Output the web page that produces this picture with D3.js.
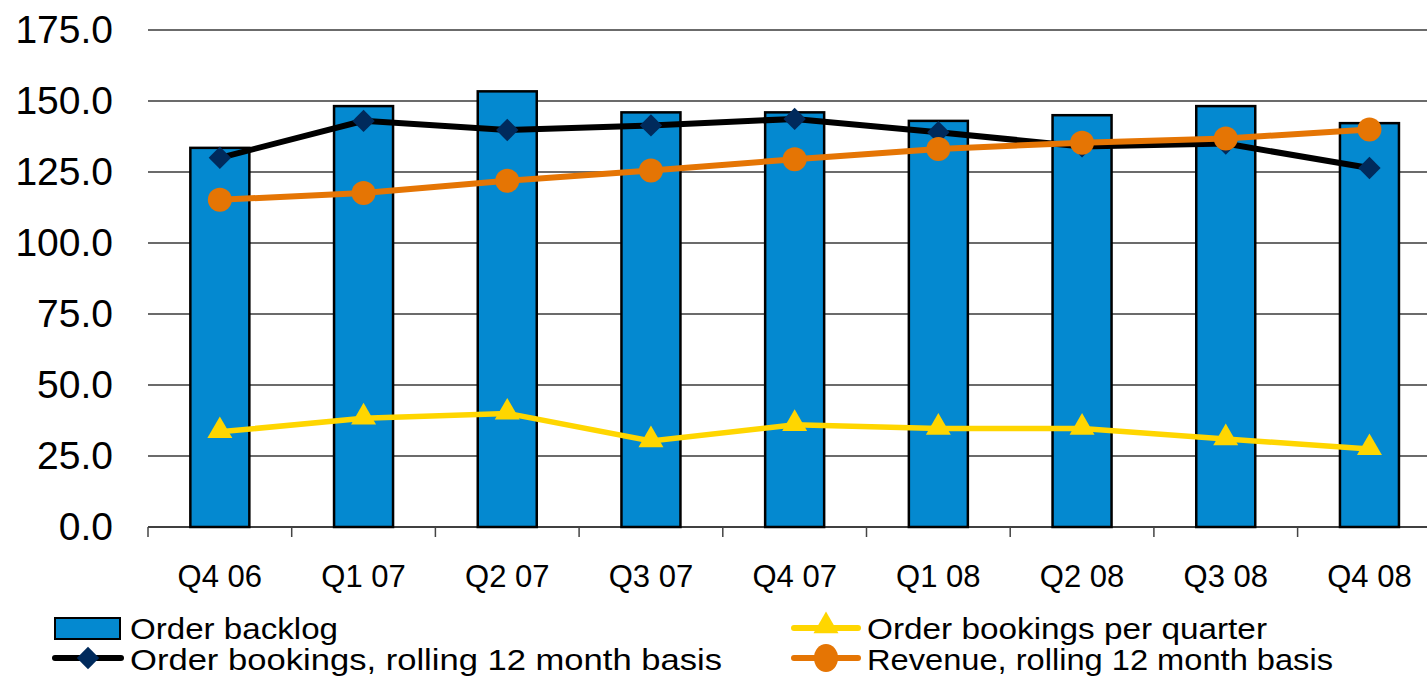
<!DOCTYPE html>
<html>
<head>
<meta charset="utf-8">
<script src="https://cdn.jsdelivr.net/npm/d3@7"></script>
<style>
    body { margin: 0; background: #fff; }
    svg { display: block; font-family: "Liberation Sans", Arial, sans-serif; }
    .tickLabel { font-size: 39px; fill: #000; }
    .catLabel { font-size: 31px; fill: #000; }
    .legendText { font-size: 29px; fill: #000; }
</style>
</head>
<body>
<div id="chart"></div>
<script>
const quarters = ["Q4 06", "Q1 07", "Q2 07", "Q3 07", "Q4 07", "Q1 08", "Q2 08", "Q3 08", "Q4 08"]
const orderBacklog = [133.5, 148.2, 153.4, 146, 146, 143, 145, 148.2, 142.2]
const bookingsRolling = [130, 143, 139.8, 141.4, 143.7, 139, 134, 135, 126.4]
const bookingsQuarter = [33.5, 38.3, 40, 30.3, 36, 34.7, 34.7, 31, 27.5]
const revenueRolling = [115.2, 117.6, 121.9, 125.5, 129.5, 133.1, 135.3, 136.8, 140]
const yTicks = [0, 25, 50, 75, 100, 125, 150, 175]

const margin = { top: 30, left: 148 }
const totalWidth = 1427
const totalHeight = 677
const plotHeight = 497
const bandWidth = 143.7

const svg = d3.select('#chart').append('svg')
    .attr('width', totalWidth)
    .attr('height', totalHeight)

const chart = svg.append('g')
    .attr('transform', `translate(${margin.left}, ${margin.top})`)

const x = d3.scaleBand()
    .domain(quarters)
    .range([0, bandWidth * quarters.length])

const y = d3.scaleLinear()
    .domain([0, 175])
    .range([plotHeight, 0])

// gridlines
chart.append('g')
    .selectAll('line')
    .data(yTicks.slice(1))
    .enter()
        .append('line')
            .attr('x1', 0)
            .attr('x2', totalWidth)
            .attr('y1', d => y(d))
            .attr('y2', d => y(d))
            .attr('stroke', '#3a3a3a')
            .attr('stroke-width', 1.5)

// y labels
chart.append('g')
    .selectAll('text')
    .data(yTicks)
    .enter()
        .append('text')
            .attr('class', 'tickLabel')
            .attr('x', -35)
            .attr('y', d => y(d) + 13)
            .attr('text-anchor', 'end')
            .text(d => d.toFixed(1))

// bars
const barWidth = 59
chart.append('g')
    .selectAll('rect')
    .data(orderBacklog)
    .enter()
        .append('rect')
            .attr('x', (d, i) => x(quarters[i]) + x.bandwidth() / 2 - barWidth / 2)
            .attr('y', d => y(d))
            .attr('width', barWidth)
            .attr('height', d => y(0) - y(d))
            .attr('fill', '#0489d0')
            .attr('stroke', '#000')
            .attr('stroke-width', 2.5)

// x axis
const xAxis = chart.append('g')
    .attr('transform', `translate(0, ${plotHeight})`)
xAxis.append('line')
    .attr('x1', 0).attr('x2', totalWidth)
    .attr('stroke', '#000').attr('stroke-width', 1.5)
xAxis.selectAll('.tick')
    .data(d3.range(quarters.length + 1))
    .enter()
        .append('line')
            .attr('x1', i => i * x.step())
            .attr('x2', i => i * x.step())
            .attr('y1', 0)
            .attr('y2', 10)
            .attr('stroke', '#444')
            .attr('stroke-width', 1.5)
xAxis.selectAll('text')
    .data(quarters)
    .enter()
        .append('text')
            .attr('class', 'catLabel')
            .attr('x', d => x(d) + x.bandwidth() / 2)
            .attr('y', 60)
            .attr('text-anchor', 'middle')
            .text(d => d)

const cx = i => x(quarters[i]) + x.bandwidth() / 2
const lineGen = d3.line()
    .x((d, i) => cx(i))
    .y(d => y(d))

const diamond = d3.symbol().type(d3.symbolSquare).size(250)
const triangle = d3.symbol().type(d3.symbolTriangle).size(270)

// order bookings per quarter (yellow)
chart.append('path')
    .datum(bookingsQuarter)
    .attr('d', lineGen)
    .attr('fill', 'none')
    .attr('stroke', '#ffd600')
    .attr('stroke-width', 5.5)
chart.append('g')
    .selectAll('path')
    .data(bookingsQuarter)
    .enter()
        .append('path')
            .attr('d', triangle)
            .attr('transform', (d, i) => `translate(${cx(i)}, ${y(d) - 1})`)
            .attr('fill', '#ffd600')

// order bookings rolling (black)
chart.append('path')
    .datum(bookingsRolling)
    .attr('d', lineGen)
    .attr('fill', 'none')
    .attr('stroke', '#000')
    .attr('stroke-width', 6)
chart.append('g')
    .selectAll('path')
    .data(bookingsRolling)
    .enter()
        .append('path')
            .attr('d', diamond)
            .attr('transform', (d, i) => `translate(${cx(i)}, ${y(d)}) rotate(45)`)
            .attr('fill', '#002a5c')

// revenue rolling (orange)
chart.append('path')
    .datum(revenueRolling)
    .attr('d', lineGen)
    .attr('fill', 'none')
    .attr('stroke', '#e57504')
    .attr('stroke-width', 6)
chart.append('g')
    .selectAll('circle')
    .data(revenueRolling)
    .enter()
        .append('circle')
            .attr('cx', (d, i) => cx(i))
            .attr('cy', d => y(d))
            .attr('r', 12)
            .attr('fill', '#e57504')

// legend
const legend = svg.append('g')

legend.append('rect')
    .attr('x', 55).attr('y', 618)
    .attr('width', 65).attr('height', 21)
    .attr('fill', '#0489d0')
    .attr('stroke', '#000').attr('stroke-width', 2)
legend.append('text')
    .attr('class', 'legendText')
    .attr('x', 130).attr('y', 639)
    .attr('textLength', 208).attr('lengthAdjust', 'spacingAndGlyphs')
    .text('Order backlog')

legend.append('line')
    .attr('x1', 55).attr('x2', 121).attr('y1', 658).attr('y2', 658)
    .attr('stroke', '#000').attr('stroke-width', 6).attr('stroke-linecap', 'round')
legend.append('path')
    .attr('d', diamond)
    .attr('transform', 'translate(88, 658) rotate(45)')
    .attr('fill', '#002a5c')
legend.append('text')
    .attr('class', 'legendText')
    .attr('x', 130).attr('y', 670)
    .attr('textLength', 592).attr('lengthAdjust', 'spacingAndGlyphs')
    .text('Order bookings, rolling 12 month basis')

legend.append('line')
    .attr('x1', 794).attr('x2', 858).attr('y1', 628).attr('y2', 628)
    .attr('stroke', '#ffd600').attr('stroke-width', 6).attr('stroke-linecap', 'round')
legend.append('path')
    .attr('d', triangle)
    .attr('transform', 'translate(826, 626)')
    .attr('fill', '#ffd600')
legend.append('text')
    .attr('class', 'legendText')
    .attr('x', 867).attr('y', 639)
    .attr('textLength', 400).attr('lengthAdjust', 'spacingAndGlyphs')
    .text('Order bookings per quarter')

legend.append('line')
    .attr('x1', 794).attr('x2', 858).attr('y1', 658).attr('y2', 658)
    .attr('stroke', '#e57504').attr('stroke-width', 6).attr('stroke-linecap', 'round')
legend.append('ellipse')
    .attr('cx', 826).attr('cy', 658).attr('rx', 12).attr('ry', 14)
    .attr('fill', '#e57504')
legend.append('text')
    .attr('class', 'legendText')
    .attr('x', 867).attr('y', 670)
    .attr('textLength', 466).attr('lengthAdjust', 'spacingAndGlyphs')
    .text('Revenue, rolling 12 month basis')
</script>
</body>
</html>
